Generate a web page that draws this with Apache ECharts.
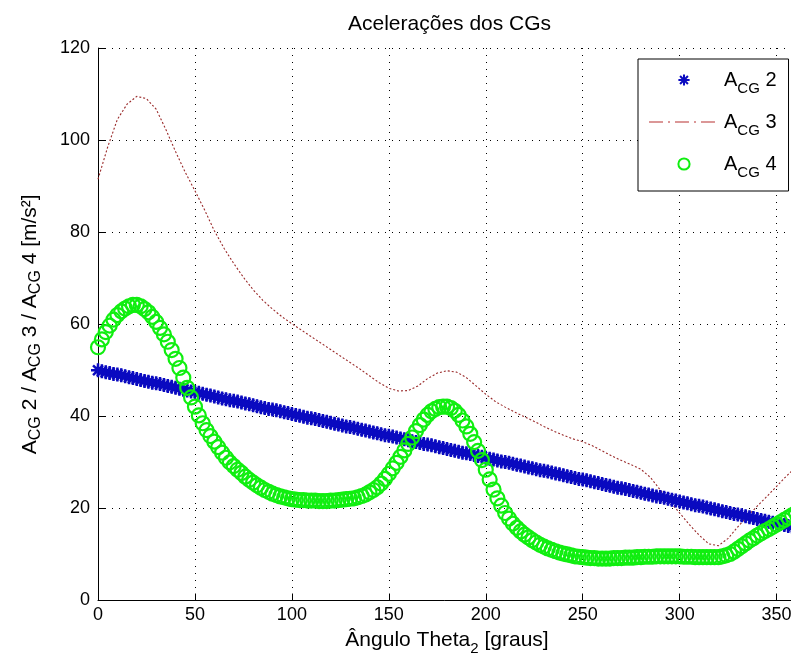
<!DOCTYPE html>
<html><head><meta charset="utf-8">
<script src="https://cdn.jsdelivr.net/npm/echarts@6/dist/echarts.min.js"></script>
<style>html,body{margin:0;padding:0;background:#fff}#c{width:791px;height:662px}</style>
</head><body><div id="c"></div>
<script>
// Theta samples (degrees) for A_CG 2 and A_CG 4
const theta = [0,2,4,6,8,10,12,14,16,18,20,22,24,26,28,30,32,34,36,38,40,42,44,46,48,50,52,54,56,58,60,62,64,66,68,70,72,74,76,78,80,82,84,86,88,90,92,94,96,98,100,102,104,106,108,110,112,114,116,118,120,122,124,126,128,130,132,134,136,138,140,142,144,146,148,150,152,154,156,158,160,162,164,166,168,170,172,174,176,178,180,182,184,186,188,190,192,194,196,198,200,202,204,206,208,210,212,214,216,218,220,222,224,226,228,230,232,234,236,238,240,242,244,246,248,250,252,254,256,258,260,262,264,266,268,270,272,274,276,278,280,282,284,286,288,290,292,294,296,298,300,302,304,306,308,310,312,314,316,318,320,322,324,326,328,330,332,334,336,338,340,342,344,346,348,350,352,354,356,358,360];
// A_CG 2 [m/s²]
const acg2 = [50.0,49.8,49.6,49.4,49.2,49.1,48.9,48.7,48.5,48.3,48.1,47.9,47.7,47.5,47.3,47.2,47.0,46.8,46.6,46.4,46.2,46.0,45.8,45.6,45.4,45.3,45.1,44.9,44.7,44.5,44.3,44.1,43.9,43.7,43.5,43.4,43.2,43.0,42.8,42.6,42.4,42.2,42.0,41.8,41.6,41.5,41.3,41.1,40.9,40.7,40.5,40.3,40.1,39.9,39.7,39.6,39.4,39.2,39.0,38.8,38.6,38.4,38.2,38.0,37.8,37.7,37.5,37.3,37.1,36.9,36.7,36.5,36.3,36.1,35.9,35.8,35.6,35.4,35.2,35.0,34.8,34.6,34.4,34.2,34.0,33.9,33.7,33.5,33.3,33.1,32.9,32.7,32.5,32.3,32.1,32.0,31.8,31.6,31.4,31.2,31.0,30.8,30.6,30.4,30.2,30.1,29.9,29.7,29.5,29.3,29.1,28.9,28.7,28.5,28.3,28.2,28.0,27.8,27.6,27.4,27.2,27.0,26.8,26.6,26.4,26.3,26.1,25.9,25.7,25.5,25.3,25.1,24.9,24.7,24.5,24.4,24.2,24.0,23.8,23.6,23.4,23.2,23.0,22.8,22.6,22.5,22.3,22.1,21.9,21.7,21.5,21.3,21.1,20.9,20.7,20.6,20.4,20.2,20.0,19.8,19.6,19.4,19.2,19.0,18.8,18.7,18.5,18.3,18.1,17.9,17.7,17.5,17.3,17.1,16.9,16.8,16.6,16.4,16.2,16.0,15.8];
// A_CG 4 [m/s²]
const acg4 = [55.0,56.7,58.3,59.7,61.0,62.0,62.8,63.4,63.9,64.2,64.2,63.9,63.3,62.6,61.6,60.5,59.2,57.8,56.2,54.4,52.5,50.5,48.4,46.2,44.1,42.1,40.2,38.5,37.0,35.7,34.5,33.3,32.1,31.0,30.0,29.2,28.4,27.7,26.9,26.2,25.6,25.0,24.5,24.0,23.6,23.2,22.9,22.6,22.4,22.2,22.0,21.9,21.8,21.8,21.7,21.7,21.7,21.6,21.6,21.6,21.7,21.7,21.8,21.9,22.0,22.1,22.2,22.4,22.7,23.0,23.5,24.0,24.6,25.4,26.4,27.5,28.7,29.9,31.2,32.6,34.0,35.4,36.8,38.1,39.3,40.3,41.1,41.6,42.0,42.1,42.1,41.8,41.2,40.3,39.1,37.8,36.2,34.4,32.5,30.5,28.4,26.3,24.1,22.2,20.6,19.0,17.8,16.7,15.8,15.0,14.3,13.7,13.1,12.6,12.1,11.7,11.3,11.0,10.7,10.4,10.2,10.0,9.8,9.6,9.5,9.4,9.3,9.2,9.2,9.1,9.1,9.1,9.1,9.2,9.2,9.2,9.3,9.3,9.3,9.4,9.4,9.5,9.5,9.5,9.6,9.6,9.6,9.6,9.6,9.6,9.6,9.5,9.5,9.5,9.4,9.4,9.4,9.4,9.4,9.4,9.4,9.6,9.8,10.1,10.6,11.2,11.8,12.4,13.0,13.5,14.1,14.6,15.1,15.5,16.0,16.5,17.0,17.5,18.0,18.5,19.0];
// Theta samples (degrees) for A_CG 3
const thetaRed = [0,5,10,15,20,25,30,35,40,45,50,55,60,65,70,75,80,85,90,95,100,105,110,115,120,125,130,135,140,145,150,155,160,165,170,175,180,185,190,195,200,205,210,215,220,225,230,235,240,245,250,255,260,265,270,275,280,285,290,295,300,305,310,315,320,325,330,335,340,345,350,355,360];
// A_CG 3 [m/s²]
const acg3 = [91.5,98.5,104.5,107.8,109.5,109.0,106.7,102.3,97.5,93.0,89.0,84.8,80.3,76.5,73.2,70.2,67.5,65.2,63.3,61.6,60.1,58.7,57.3,55.9,54.5,53.1,51.7,50.3,48.8,47.3,46.1,45.5,45.6,46.6,48.2,49.4,49.9,49.6,48.4,46.6,44.8,43.2,42.0,40.9,39.9,38.9,37.8,36.8,35.9,35.1,34.5,33.6,32.5,31.4,30.4,29.5,28.5,26.7,24.0,21.5,19.0,16.5,14.2,12.3,11.9,13.5,16.0,18.3,20.5,22.6,24.8,27.0,29.0];

const seriesNames = ['ACG 2', 'ACG 3', 'ACG 4'];
const legendLabels = ['{n|A}{s|CG}{n| 2}', '{n|A}{s|CG}{n| 3}', '{n|A}{s|CG}{n| 4}'];
const titleText = 'Acelerações dos CGs';
const xName = '{n|Ângulo Theta}{s|2}{n| [graus]}';
const yName = '{n|A}{s|CG}{n| 2 / A}{s|CG}{n| 3 / A}{s|CG}{n| 4 [m/s²]}';

const FONT = '"Liberation Sans", Arial, Helvetica, sans-serif';
const zip = (xs, ys) => xs.map((x, i) => [x, ys[i]]);
const asterisk = 'path://M0,4.1L10,4.1L10,5.9L0,5.9Z M4.1,0L5.9,0L5.9,10L4.1,10Z M0.84,2.11L2.11,0.84L9.16,7.89L7.89,9.16Z M7.89,0.84L9.16,2.11L2.11,9.16L0.84,7.89Z';
const dashDotIcon = 'path://M0,0h0.01v0.01h-0.01z M0,14h0.01v0.01h-0.01z M0,6.5h14v1h-14z M19,6.5h2v1h-2z M26,6.5h14v1h-14z M45,6.5h2v1h-2z M52,6.5h14v1h-14z M70,6.5h0.01v0.01h-0.01z';
const richText = (n, s, pad) => ({
  n: {fontSize: n, lineHeight: n, verticalAlign: 'top', color: '#000', fontFamily: FONT},
  s: {fontSize: s, lineHeight: s, verticalAlign: 'top', padding: [pad, 0, 0, 0], color: '#000', fontFamily: FONT}
});
const dotted = {color: '#000', width: 1, type: [1, 6]};

const chart = echarts.init(document.getElementById('c'), null, {renderer: 'canvas'});
chart.setOption({
  animation: false,
  backgroundColor: '#fff',
  title: {
    text: titleText, left: 343, top: 9,
    textStyle: {fontSize: 21, fontWeight: 'normal', color: '#000', fontFamily: FONT}
  },
  grid: {left: 98, top: 48, right: -5, bottom: 61.5, containLabel: false, outerBoundsMode: 'none'},
  legend: {
    orient: 'vertical', left: 638, top: 59,
    padding: [11, 12, 11, 11], itemGap: 16, itemWidth: 70, itemHeight: 14,
    backgroundColor: '#fff', borderColor: '#000', borderWidth: 1, borderRadius: 0,
    selectedMode: false,
    data: [
      {name: seriesNames[0], itemStyle: {}},
      {name: seriesNames[1], icon: dashDotIcon, itemStyle: {color: '#b83030'}},
      {name: seriesNames[2]}
    ],
    formatter: name => legendLabels[seriesNames.indexOf(name)],
    textStyle: {rich: richText(20, 15, 11)}
  },
  xAxis: {
    type: 'value', min: 0, max: 360, interval: 50,
    name: xName, nameLocation: 'middle', nameGap: 23,
    nameTextStyle: {rich: richText(21, 15, 12)},
    axisLine: {show: true, onZero: false, lineStyle: {color: '#000', width: 1}},
    axisTick: {show: true, inside: true, length: 7, lineStyle: {color: '#000'}},
    axisLabel: {fontSize: 18, color: '#000', fontFamily: FONT, margin: 6, showMaxLabel: false},
    splitLine: {show: true, lineStyle: dotted}
  },
  yAxis: {
    type: 'value', min: 0, max: 120, interval: 20,
    name: yName, nameLocation: 'middle', nameRotate: 90, nameGap: 57,
    nameTextStyle: {rich: richText(21, 16, 8)},
    axisLine: {show: true, lineStyle: {color: '#000', width: 1}},
    axisTick: {show: true, inside: true, length: 7, lineStyle: {color: '#000'}},
    axisLabel: {fontSize: 18, color: '#000', fontFamily: FONT, margin: 8},
    splitLine: {show: true, lineStyle: dotted}
  },
  series: [
    {
      name: seriesNames[0], type: 'line', data: zip(theta, acg2),
      symbol: asterisk, symbolSize: 14, showSymbol: true, showAllSymbol: true,
      itemStyle: {color: '#0a0ac0'}, lineStyle: {width: 0, opacity: 0},
      emphasis: {disabled: true}, silent: true
    },
    {
      name: seriesNames[1], type: 'line', data: zip(thetaRed, acg3),
      symbol: 'none', showSymbol: false,
      itemStyle: {color: '#9a2a2a'}, lineStyle: {color: '#9a2a2a', width: 1.1, type: [2, 2]},
      emphasis: {disabled: true}, silent: true
    },
    {
      name: seriesNames[2], type: 'line', data: zip(theta, acg4),
      symbol: 'circle', symbolSize: 14, showSymbol: true, showAllSymbol: true,
      itemStyle: {color: 'rgba(0,0,0,0)', borderColor: '#10ee10', borderWidth: 2.2},
      lineStyle: {width: 0, opacity: 0},
      emphasis: {disabled: true}, silent: true
    }
  ]
});
</script>
</body></html>
